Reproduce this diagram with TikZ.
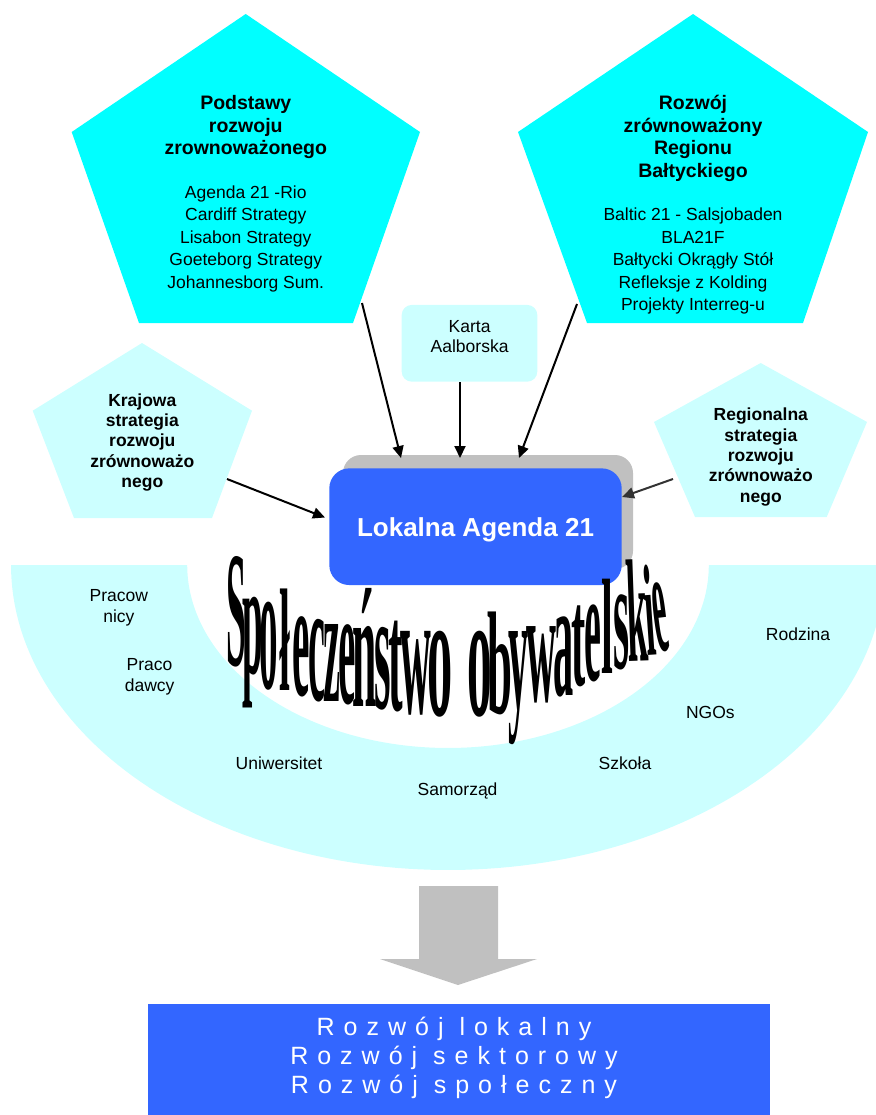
\documentclass[tikz,border=0pt]{standalone}
\usepackage{fontspec}
\setmainfont{Liberation Sans}
\newfontfamily\wafont{Liberation Serif}
\newfontfamily\spacedfont[LetterSpace=36]{Liberation Sans}
\usetikzlibrary{arrows.meta}
\definecolor{cyanA}{HTML}{00FFFF}
\definecolor{cyanL}{HTML}{CCFFFF}
\definecolor{blueB}{HTML}{3366FF}
\definecolor{grayS}{HTML}{C0C0C0}
\newcommand\wglyph[7]{\begin{scope}[shift={(#2,#3)}]\node[wa, rotate=#7, xscale=1.12*#4, yscale=#5] (#1) at (0,0) {#6};\end{scope}}
\begin{document}
\begin{tikzpicture}[x=1pt,y=-1pt,
  title/.style={align=center, inner sep=0pt, font=\bfseries\fontsize{19.5}{22.5}\selectfont},
  listtxt/.style={align=center, inner sep=0pt, font=\fontsize{17.5}{22.5}\selectfont},
  smalltitle/.style={align=center, inner sep=0pt, font=\bfseries\fontsize{17.5}{20.3}\selectfont},
  lbl/.style={align=center, inner sep=0pt, font=\fontsize{17.5}{20.5}\selectfont},
  conn/.style={line width=2pt, -{Triangle[length=12pt,width=11pt]}},
  wa/.style={anchor=base, inner sep=0pt, font=\wafont\bfseries\fontsize{10}{12}\selectfont}
]
\useasboundingbox (0,0) rectangle (875,1115);

% civil society arc
\fill[cyanL] plot[domain=180:360, samples=120] ({448+437*cos(\x)},{565-305*sin(\x)})
  -- plot[domain=360:180, samples=120] ({448+260.8*cos(\x)},{565-183*sin(\x)}) -- cycle;

% pentagons
\fill[cyanA] (71.7,132) -- (245.7,14) -- (420,132) -- (353,323) -- (139,323) -- cycle;
\fill[cyanA] (518,132) -- (693,14) -- (868,132) -- (803,323) -- (587,323) -- cycle;
\fill[cyanL] (32.7,410.7) -- (142,343) -- (252,410.7) -- (212,518) -- (74,518) -- cycle;
\fill[cyanL] (654,422) -- (760.7,363) -- (867,422) -- (826.7,517) -- (695,517) -- cycle;

\node[title] (tlt) at (245.8,127.5) {Podstawy\\rozwoju\\zrownoważonego};
\node[listtxt] (tll) at (245.8,238.7) {Agenda 21 -Rio\\Cardiff Strategy\\Lisabon Strategy\\Goeteborg Strategy\\Johannesborg Sum.};
\node[title] (trt) at (693,138.5) {Rozwój\\zrównoważony\\Regionu\\Bałtyckiego};
\node[listtxt] (trl) at (693,261) {Baltic 21 - Salsjobaden\\BLA21F\\Bałtycki Okrągły Stół\\Refleksje z Kolding\\Projekty Interreg-u};
\node[smalltitle] (lst) at (142.3,442.5) {Krajowa\\strategia\\rozwoju\\zrównoważo\\nego};
\node[smalltitle] (rst) at (760.8,457) {Regionalna\\strategia\\rozwoju\\zrównoważo\\nego};

% Karta
\node[fill=cyanL, rounded corners=10pt, minimum width=135.6pt, minimum height=76.7pt, inner sep=0pt] (karta) at (469.5,343.3) {};
\node[lbl] (kartat) at (469.6,336.5) {Karta\\Aalborska};

% central box
\node[fill=grayS, rounded corners=18pt, minimum width=290pt, minimum height=114pt, inner sep=0pt] (shadow) at (488,512) {};
\node[fill=blueB, rounded corners=20pt, minimum width=292.4pt, minimum height=116.7pt, inner sep=0pt,
  text=white, text height=24.5pt, text depth=5.5pt, font=\bfseries\fontsize{26}{30}\selectfont] (lad) at (475.5,526.7) {Lokalna Agenda 21};

% connectors
\coordinate (s1) at (362,303); \coordinate (e1) at (401,458);
\coordinate (s2) at (460,382); \coordinate (e2) at (460,458);
\coordinate (s3) at (577,304); \coordinate (e3) at (519,458);
\coordinate (s4) at (227,479); \coordinate (e4) at (325,517.5);
\coordinate (s5) at (673,479); \coordinate (e5) at (622,497);
\draw[conn] (s1) -- (e1);
\draw[conn] (s2) -- (e2);
\draw[conn] (s3) -- (e3);
\draw[conn] (s4) -- (e4);
\draw[conn, black!80] (s5) -- (e5);

% arc labels
\node[lbl] (prac) at (118.9,607.7) {Pracow\\nicy};
\node[lbl] (pracd) at (149.6,676.7) {Praco\\dawcy};
\node[lbl] (rodz) at (798,634.3) {Rodzina};
\node[lbl] (ngo) at (710.4,712.3) {NGOs};
\node[lbl] (uni) at (279,763.3) {Uniwersitet};
\node[lbl] (szk) at (625,763.3) {Szkoła};
\node[lbl] (sam) at (457.6,791.3) {Samorząd};

% WordArt text
\wglyph{g1}{236.5}{665}{3.2}{16.47}{S}{0}
\wglyph{g2}{253}{673}{3.3}{16.2}{p}{0}
\wglyph{g3}{269}{688}{3.3}{18.34}{o}{0}
\wglyph{g4}{284.5}{690}{3.5}{14.64}{ł}{0}
\wglyph{g5}{301}{695}{3.5}{16.78}{e}{0}
\wglyph{g6}{316.5}{700}{3.4}{17.23}{c}{0}
\wglyph{g7}{331.5}{701}{3.4}{16.78}{z}{0}
\wglyph{g8}{347}{703}{3.5}{16.78}{e}{0}
\wglyph{g9}{365}{706}{3.9}{17.0}{ń}{0}
\wglyph{g10}{382.5}{708}{3.8}{17.23}{s}{0}
\wglyph{g11}{396}{710}{3.9}{15.89}{t}{0}
\wglyph{g12}{415.5}{713}{3.8}{17.9}{w}{0}
\wglyph{g13}{440.5}{715}{4.5}{17.9}{o}{0}
\wglyph{g14}{479.5}{715}{4.4}{17.9}{o}{0}
\wglyph{g15}{500}{713}{4.0}{14.64}{b}{0}
\wglyph{g16}{519}{708}{3.6}{16.78}{y}{0}
\wglyph{g17}{541.5}{701}{3.7}{16.33}{w}{0}
\wglyph{g18}{563.5}{695}{3.6}{16.78}{a}{0}
\wglyph{g19}{578.5}{685}{3.8}{14.16}{t}{0}
\wglyph{g20}{593}{680}{3.4}{16.1}{e}{0}
\wglyph{g21}{607}{673}{3.8}{13.6}{l}{0}
\wglyph{g22}{621.5}{668}{3.7}{15.66}{s}{0}
\wglyph{g23}{639}{661}{3.3}{14.64}{k}{2}
\wglyph{g24}{652.5}{655}{3.2}{13.03}{i}{4}
\wglyph{g25}{664}{651}{2.8}{14.54}{e}{7}

% big arrow
\fill[grayS] (419,886) -- (498,886) -- (498,959) -- (537,959) -- (458,985) -- (380,959) -- (419,959) -- cycle;

% result box
\node[fill=blueB, minimum width=622pt, minimum height=111pt, inner sep=0pt] (out) at (459,1059.5) {};
\node[align=center, inner sep=0pt, text=white, font=\spacedfont\fontsize{25}{29}\selectfont] (outt) at (454,1058)
  {Rozwój lokalny\\Rozwój sektorowy\\Rozwój społeczny};
\end{tikzpicture}
\end{document}
